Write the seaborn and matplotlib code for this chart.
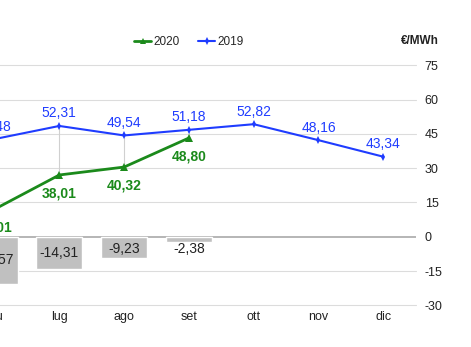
import matplotlib
matplotlib.use("Agg")
import matplotlib.pyplot as plt
from matplotlib.lines import Line2D
import seaborn as sns
import pandas as pd
import numpy as np

months = ["giu", "lug", "ago", "set", "ott", "nov", "dic"]
pun_2019 = [48.48, 52.31, 49.54, 51.18, 52.82, 48.16, 43.34]
pun_2020 = [28.01, 38.01, 40.32, 48.80]
diff = [-20.57, -14.31, -9.23, -2.38]
right_ticks = [-30, -15, 0, 15, 30, 45, 60, 75]

BLUE = "#1f3cff"
GREEN = "#1b8a1b"
BAR = "#c0c0c0"

sns.set_theme(style="white")
plt.rcParams["font.family"] = ["Liberation Sans", "DejaVu Sans"]

W, H = 471, 347
fig = plt.figure(figsize=(W / 100, H / 100), dpi=100)
left_px, right_px, top_px, bot_px = -37.9, 415.7, 65.3, 305.3
ax = fig.add_axes([left_px / W, 1 - bot_px / H, (right_px - left_px) / W, (bot_px - top_px) / H])

bars_df = pd.DataFrame({"mese": months[:len(diff)], "diff": diff})
sns.barplot(data=bars_df, x="mese", y="diff", order=months, color=BAR,
            saturation=1, width=0.71, ax=ax, zorder=2)
ax.set_ylim(-30, 75)
ax.set_xlabel("")
ax.set_ylabel("")
for s in ax.spines.values():
    s.set_visible(False)
for t in right_ticks:
    if t == 0:
        ax.axhline(t, color="#b5b5b5", lw=1.4, zorder=1)
    else:
        ax.axhline(t, color="#dcdcdc", lw=0.8, zorder=0, clip_on=False)

for i, v in enumerate(diff):
    ypos = min(v / 2, -5.2)
    ax.text(i, ypos, f"{v:.2f}".replace(".", ","), ha="center", va="center",
            fontsize=10, color="#222222", zorder=3)

ax2 = ax.twinx()
ax2.set_ylim(0, 70)
ax2.set_yticks([])
for s in ax2.spines.values():
    s.set_visible(False)

# right-hand scale belongs to the bars axis (twinx resets it to the left)
ax.yaxis.tick_right()
ax.set_yticks(right_ticks)
ax.set_yticklabels([str(t) for t in right_ticks])
ax.tick_params(axis="y", length=0, pad=6.5, labelsize=9, colors="#222222",
               labelright=True, labelleft=False)
ax.tick_params(axis="x", length=0, pad=4, labelsize=9, colors="#222222")

x19 = np.arange(len(pun_2019))
x20 = np.arange(len(pun_2020))
for i in range(len(pun_2020)):
    ax2.vlines(i, pun_2020[i], pun_2019[i], color="#d0d0d0", lw=0.8, zorder=1)

sns.lineplot(x=x19, y=pun_2019, ax=ax2, color=BLUE, lw=1.5, marker="d",
             markersize=4, markeredgewidth=0, zorder=3)
sns.lineplot(x=x20, y=pun_2020, ax=ax2, color=GREEN, lw=2, marker="^",
             markersize=5.5, markeredgewidth=0, zorder=4)

for i, v in enumerate(pun_2019):
    ax2.annotate(f"{v:.2f}".replace(".", ","), (i, v), xytext=(0, 9),
                 textcoords="offset points", ha="center", va="center",
                 fontsize=10, color=BLUE)
for i, v in enumerate(pun_2020):
    ax2.annotate(f"{v:.2f}".replace(".", ","), (i, v), xytext=(0, -13),
                 textcoords="offset points", ha="center", va="center",
                 fontsize=10, color=GREEN, fontweight="bold")

ax.set_xlim(-0.5, len(months) - 0.5)
ax2.set_xlim(-0.5, len(months) - 0.5)

handles = [Line2D([], [], color=GREEN, lw=2, marker="^", markersize=5, markeredgewidth=0),
           Line2D([], [], color=BLUE, lw=1.5, marker="d", markersize=4, markeredgewidth=0)]
fig.legend(handles, ["2020", "2019"], loc="center", bbox_to_anchor=(189 / W, 1 - 42 / H),
           ncol=2, frameon=False, fontsize=8.5, handlelength=1.4, handletextpad=0.2,
           columnspacing=1.6)
fig.text(420 / W, 1 - 41 / H, "€/MWh", ha="center", va="center", fontsize=8.5,
         fontweight="bold", color="#222222")

fig.savefig("out.png", dpi=100)
